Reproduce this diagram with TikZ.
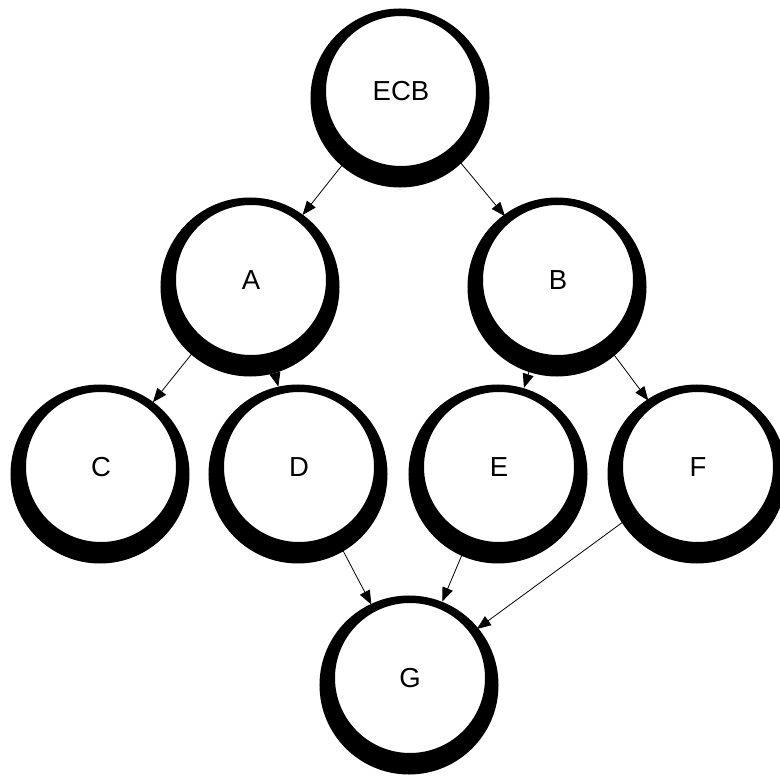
\documentclass[tikz,border=0pt]{standalone}
\usepackage{fontspec}
\setmainfont{Liberation Sans}
\usetikzlibrary{arrows.meta,backgrounds}

\begin{document}
\begin{tikzpicture}[x=1pt,y=-1pt,
  ball/.style={circle,draw=black,line width=2pt,fill=white,minimum size=152pt,
    inner sep=0pt,outer sep=7pt,font=\fontsize{27.5}{30}\selectfont,
    preaction={fill=black,draw=black,line width=27pt,transform canvas={xshift=-1pt,yshift=-7pt}}},
  link/.style={-{Triangle[length=14pt,width=11pt]},line width=0.8pt}]
  \useasboundingbox (0,0) rectangle (780,778);
  \node[ball] (ECB) at (401,91) {ECB};
  \node[ball] (A) at (251,280) {A};
  \node[ball] (B) at (558,280) {B};
  \node[ball] (C) at (101,467) {C};
  \node[ball] (D) at (299,467) {D};
  \node[ball] (E) at (499,467) {E};
  \node[ball] (F) at (698,467) {F};
  \node[ball] (G) at (410,678) {G};
  % edges go under the balls
  \begin{scope}[on background layer]
    \draw[link] (ECB) -- (A);
    \draw[link] (ECB) -- (B);
    \draw[link] (A) -- (C);
    \draw[link] (A) -- (D);
    \draw[link] (B) -- (E);
    \draw[link] (B) -- (F);
    \draw[link] (D) -- (G);
    \draw[link] (E) -- (G);
    \draw[link] (F) -- (G);
  \end{scope}
\end{tikzpicture}
\end{document}
